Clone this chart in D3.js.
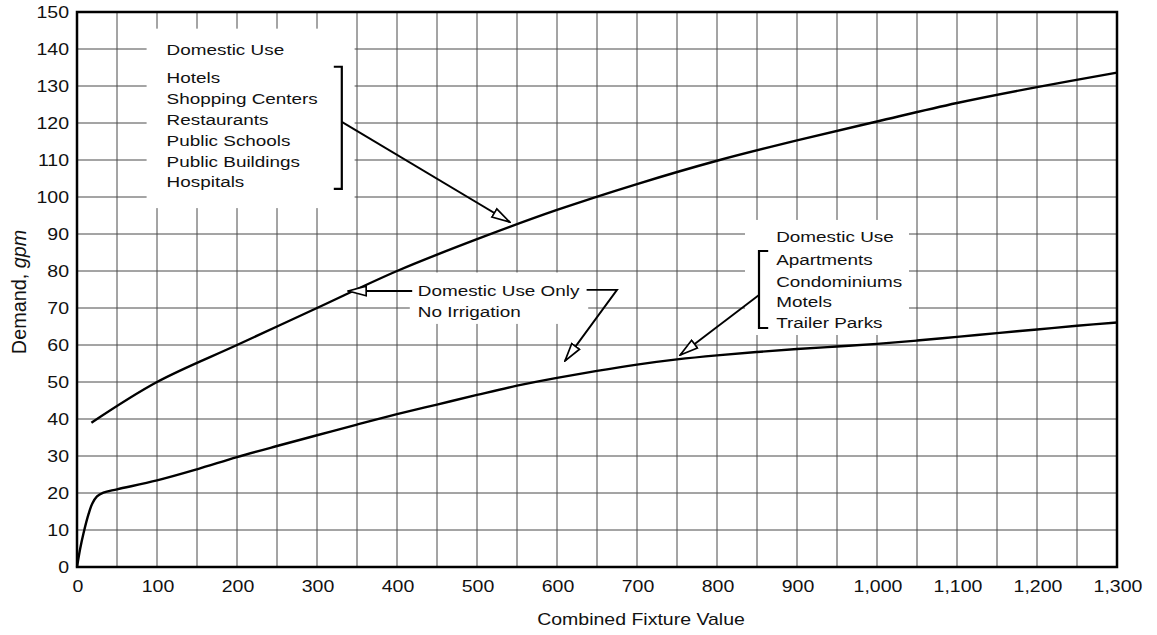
<!DOCTYPE html>
<html>
<head>
<meta charset="utf-8">
<script src="https://cdn.jsdelivr.net/npm/d3@7"></script>
<style>
  html, body { margin: 0; padding: 0; background: #fff; }
  svg { display: block; font-family: "Liberation Sans", Arial, Helvetica, sans-serif; }
</style>
</head>
<body>
<svg id="chart" width="1157" height="635"></svg>
<script>
// values
const upperFixture = [18, 100, 200, 300, 400, 500, 600, 700, 800, 900, 1000, 1100, 1200, 1300];
const upperDemand = [39, 50, 60, 70, 80, 88.6, 96.5, 103.5, 109.8, 115.3, 120.4, 125.4, 129.7, 133.6];

const lowerFixture = [0, 4, 8, 14.6, 19, 25, 33, 50, 100, 150, 200, 250, 300, 350, 400, 450, 500, 550, 600, 650, 700, 750, 800, 850, 900, 950, 1000, 1050, 1100, 1150, 1200, 1250, 1300];
const lowerDemand = [0, 5, 9, 14.4, 17.1, 19.1, 20.1, 21, 23.4, 26.4, 29.7, 32.7, 35.6, 38.5, 41.3, 43.9, 46.5, 49, 51.1, 53, 54.7, 56.1, 57.2, 58.1, 58.9, 59.6, 60.3, 61.2, 62.2, 63.2, 64.2, 65.2, 66.1];

const xTicks = [0, 100, 200, 300, 400, 500, 600, 700, 800, 900, 1000, 1100, 1200, 1300];
const yTicks = [0, 10, 20, 30, 40, 50, 60, 70, 80, 90, 100, 110, 120, 130, 140, 150];
const xGrid = [50, 100, 150, 200, 250, 300, 350, 400, 450, 500, 550, 600, 650, 700, 750, 800, 850, 900, 950, 1000, 1050, 1100, 1150, 1200, 1250];
const yGrid = [10, 20, 30, 40, 50, 60, 70, 80, 90, 100, 110, 120, 130, 140];

const upperNote = ["Domestic Use", "Hotels", "Shopping Centers", "Restaurants", "Public Schools", "Public Buildings", "Hospitals"];
const middleNote = ["Domestic Use Only", "No Irrigation"];
const lowerNote = ["Domestic Use", "Apartments", "Condominiums", "Motels", "Trailer Parks"];

const margins = { top: 12, bottom: 68, left: 77, right: 40 };
const width = 1157;
const height = 635;
const stretch = 1.22; // the scan is wider than tall

const graphWidth = width - margins.left - margins.right;
const graphHeight = height - margins.top - margins.bottom;

const scaleX = d3.scaleLinear().domain([0, 1300]).range([0, graphWidth]);
const scaleY = d3.scaleLinear().domain([0, 150]).range([graphHeight, 0]);

const svg = d3.select("#chart");

// hollow arrow head
svg.append("defs")
  .append("marker")
  .attr("id", "head")
  .attr("viewBox", "0 0 20 12")
  .attr("refX", 19)
  .attr("refY", 6)
  .attr("markerUnits", "userSpaceOnUse")
  .attr("markerWidth", 20)
  .attr("markerHeight", 12)
  .attr("orient", "auto")
  .append("path")
  .attr("d", "M1,1.2 L19,6 L1,10.8 Z")
  .attr("fill", "#fff")
  .attr("stroke", "#000")
  .attr("stroke-width", 1.7)
  .attr("stroke-linejoin", "miter");

const graph = svg.append("g")
  .attr("transform", `translate(${margins.left},${margins.top})`);

// writes wide text like the scan
const label = (parent, x, y, str, size, anchor) =>
  parent.append("text")
    .attr("transform", `translate(${x},${y}) scale(${stretch},1)`)
    .attr("text-anchor", anchor || "start")
    .attr("font-size", size)
    .attr("fill", "#111")
    .text(str);

// grid
graph.append("g").selectAll("line")
  .data(xGrid)
  .enter()
  .append("line")
  .attr("x1", (d) => scaleX(d))
  .attr("x2", (d) => scaleX(d))
  .attr("y1", 0)
  .attr("y2", graphHeight)
  .attr("stroke", "#4a4a4a")
  .attr("stroke-width", 1);

graph.append("g").selectAll("line")
  .data(yGrid)
  .enter()
  .append("line")
  .attr("x1", 0)
  .attr("x2", graphWidth)
  .attr("y1", (d) => scaleY(d))
  .attr("y2", (d) => scaleY(d))
  .attr("stroke", "#4a4a4a")
  .attr("stroke-width", 1);

// white boxes behind the notes
const boxes = [
  { x0: 87, x1: 347, y0: 97, y1: 145.5 },
  { x0: 416, x1: 639, y0: 65.7, y1: 79.6 },
  { x0: 835, x1: 1040, y0: 62.7, y1: 93.8 },
];
graph.append("g").selectAll("rect")
  .data(boxes)
  .enter()
  .append("rect")
  .attr("x", (d) => scaleX(d.x0))
  .attr("y", (d) => scaleY(d.y1))
  .attr("width", (d) => scaleX(d.x1) - scaleX(d.x0))
  .attr("height", (d) => scaleY(d.y0) - scaleY(d.y1))
  .attr("fill", "#fff");

// frame
graph.append("rect")
  .attr("width", graphWidth)
  .attr("height", graphHeight)
  .attr("fill", "none")
  .attr("stroke", "#000")
  .attr("stroke-width", 2.5);

// curves
const line = d3.line()
  .x((d) => scaleX(d[0]))
  .y((d) => scaleY(d[1]))
  .curve(d3.curveCatmullRom.alpha(0.5));

const upper = upperFixture.map((x, i) => [x, upperDemand[i]]);
const lower = lowerFixture.map((x, i) => [x, lowerDemand[i]]);

graph.append("g").selectAll("path")
  .data([upper, lower])
  .enter()
  .append("path")
  .attr("d", line)
  .attr("fill", "none")
  .attr("stroke", "#000")
  .attr("stroke-width", 2.4);

// axis labels
graph.append("g").selectAll("text")
  .data(yTicks)
  .enter()
  .each(function (d) {
    label(d3.select(this), -8, scaleY(d) + 6, d, 16, "end");
  });

const fmt = d3.format(",");
graph.append("g").selectAll("text")
  .data(xTicks)
  .enter()
  .each(function (d) {
    label(d3.select(this), scaleX(d) + 1, graphHeight + 25, fmt(d), 16, "middle");
  });

label(graph, 641 - margins.left, graphHeight + 58, "Combined Fixture Value", 16, "middle");

const yTitle = graph.append("text")
  .attr("transform", `translate(-51,${292 - margins.top}) rotate(-90) scale(1.1,1.15)`)
  .attr("text-anchor", "middle")
  .attr("font-size", 18)
  .attr("fill", "#111");
yTitle.append("tspan").text("Demand, ");
yTitle.append("tspan").attr("font-style", "italic").text("gpm");

// notes
const notes = graph.append("g");
const toPath = d3.line().x((d) => scaleX(d[0])).y((d) => scaleY(d[1]));
const arrow = (pts) =>
  notes.append("path")
    .attr("d", toPath(pts))
    .attr("fill", "none")
    .attr("stroke", "#000")
    .attr("stroke-width", 1.9)
    .attr("marker-end", "url(#head)");
const bracket = (pts) =>
  notes.append("path")
    .attr("d", toPath(pts))
    .attr("fill", "none")
    .attr("stroke", "#000")
    .attr("stroke-width", 2.2);

const upperBase = [138.4, 130.8, 125.1, 119.5, 113.8, 108.1, 102.7];
upperNote.forEach((t, i) => label(notes, scaleX(112), scaleY(upperBase[i]), t, 15.5));
bracket([[321, 135.2], [331, 135.2], [331, 102.2], [321, 102.2]]);
arrow([[331, 120.3], [541, 93.2]]);

const middleBase = [73.2, 67.6];
middleNote.forEach((t, i) => label(notes, scaleX(426), scaleY(middleBase[i]), t, 15.5));
arrow([[419, 74.6], [339, 74.6]]);
arrow([[637, 74.9], [675, 74.9], [610, 55.7]]);

const lowerBase = [87.8, 81.6, 75.7, 70.3, 64.6];
lowerNote.forEach((t, i) => label(notes, scaleX(874), scaleY(lowerBase[i]), t, 15.5));
bracket([[864, 85.4], [852.5, 85.4], [852.5, 64.6], [864, 64.6]]);
arrow([[852.5, 73.5], [754, 57.3]]);
</script>
</body>
</html>
